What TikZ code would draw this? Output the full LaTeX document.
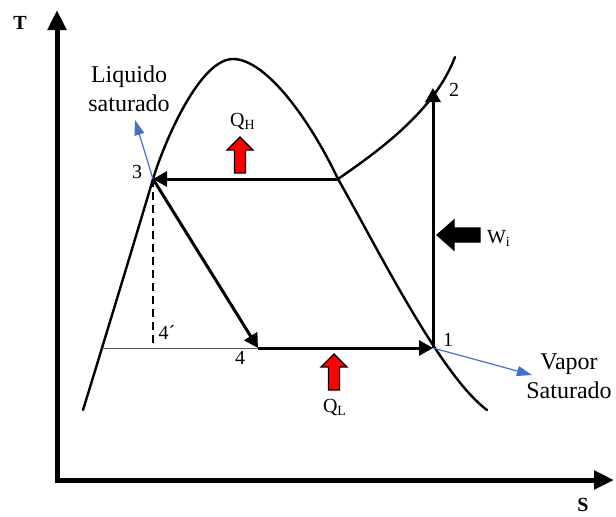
\documentclass[tikz,border=0pt]{standalone}
\usepackage{fontspec}
\setmainfont{Liberation Serif}
\usetikzlibrary{arrows.meta}

\begin{document}
\begin{tikzpicture}[x=0.5pt, y=-0.5pt, line join=miter,
    axis/.style={line width=2.5pt, {Triangle[length=10pt, width=9pt]}-{Triangle[length=10pt, width=9pt]}},
    ciclo/.style={line width=1.5pt, -{Triangle[length=7pt, width=7.5pt]}},
    curva/.style={line width=1.2pt, line cap=round},
    azul/.style={draw={rgb,255:red,68;green,114;blue,196}, line width=0.6pt, -{Triangle[length=7.5pt, width=5pt]}},
    bloque/.style={draw=black, line width=0.6pt},
    etiq/.style={font=\fontsize{10}{12}\selectfont, inner sep=0pt},
    texto/.style={font=\fontsize{12}{14.5}\selectfont, align=center, inner sep=0pt}]
  \useasboundingbox (0,0) rectangle (616,516);

  % ejes
  \draw[axis] (57,10) -- (57,480) -- (614,480);
  \node[etiq, font=\fontsize{10}{12}\selectfont\bfseries] (ejeT) at (20,23) {T};
  \node[etiq, font=\fontsize{10}{12}\selectfont\bfseries] (ejeS) at (583,505) {S};

  % puntos del ciclo
  \coordinate (p1) at (433,348);
  \coordinate (p2) at (433,88);
  \coordinate (p3) at (153,179);
  \coordinate (p4) at (258,348);
  \coordinate (pa) at (338,179);
  \coordinate (pb) at (102,348);
  \coordinate (p4p) at (153,348);
  \coordinate (liqtip) at (135,120);
  \coordinate (vaptip) at (532,375);

  % campana de saturacion
  \draw[curva] (83,410) .. controls (96,368) and (141,220) .. (p3)
    .. controls (165,140) and (200,59) .. (233,59)
    .. controls (266,59) and (310,120) .. (pa)
    .. controls (378,249) and (440,375) .. (487,410);
  % linea de presion alta
  \draw[curva] (pa) .. controls (380,150) and (435,110) .. (455,57);

  % proceso
  \draw[gray!70!black, line width=0.5pt] (pb) -- (p4);
  \draw[line width=1pt, dash pattern=on 4pt off 2.5pt] (p3) -- (p4p);
  \draw[ciclo] (pa) -- (p3);
  \draw[ciclo] (p3) -- (p4);
  \draw[ciclo] (p4) -- (p1);
  \draw[ciclo] (p1) -- (p2);

  % flechas azules
  \draw[azul] (p3) -- (liqtip);
  \draw[azul] (p1) -- (vaptip);

  % calor y trabajo
  \draw[bloque, fill=red] (240,173) ++(-5.5,0) -- ++(11,0) -- ++(0,-23) -- ++(7.5,0) -- ++(-13,-13) -- ++(-13,13) -- ++(7.5,0) -- cycle;
  \draw[bloque, fill=red] (334,390) ++(-5.5,0) -- ++(11,0) -- ++(0,-23) -- ++(7.5,0) -- ++(-13,-13) -- ++(-13,13) -- ++(7.5,0) -- cycle;
  \draw[bloque, fill=black] (480,228) -- (454,228) -- (454,220) -- (437,235) -- (454,250) -- (454,242) -- (480,242) -- cycle;

  % etiquetas
  \node[etiq] (n1) at (448,340) {1};
  \node[etiq] (n2) at (454,90) {2};
  \node[etiq] (n3) at (137,172) {3};
  \node[etiq] (n4) at (240,358) {4};
  \node[etiq] (n4p) at (167,333) {4´};
  \node[etiq] (qh) at (243,121) {Q\textsubscript{H}};
  \node[etiq] (ql) at (335,407) {Q\textsubscript{L}};
  \node[etiq] (wi) at (499,238) {W\textsubscript{i}};
  \node[texto] (liq) at (129,89) {Liquido\\saturado};
  \node[texto] (vap) at (569,376) {Vapor\\Saturado};
\end{tikzpicture}
\end{document}
